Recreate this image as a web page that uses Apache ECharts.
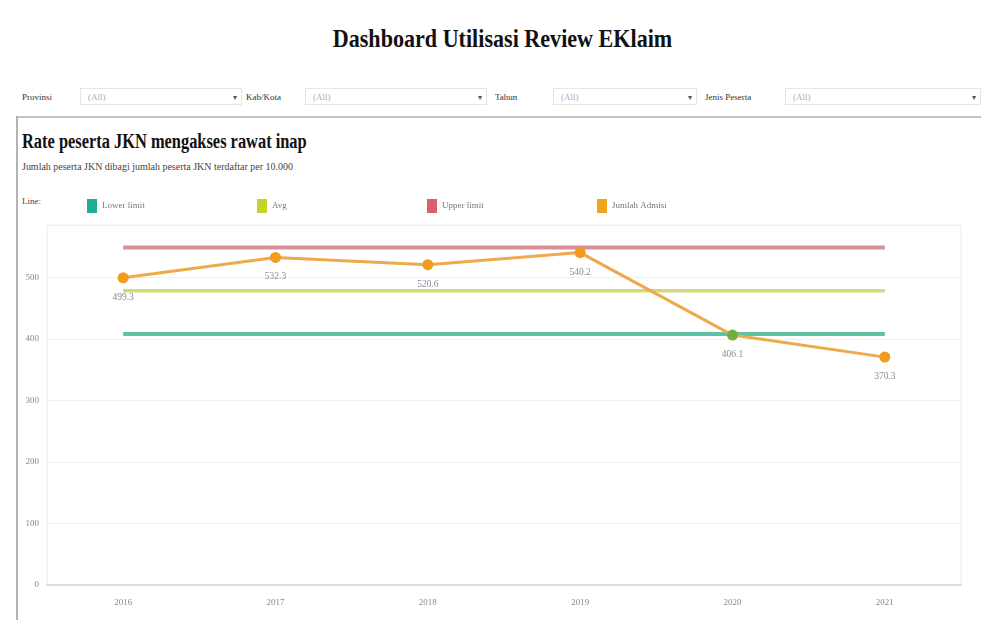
<!DOCTYPE html>
<html>
<head>
<meta charset="utf-8">
<script src="https://cdn.jsdelivr.net/npm/echarts@6/dist/echarts.min.js"></script>
<style>
  body { margin: 0; background: #fff; font-family: "Liberation Serif", serif; }
  #page { position: relative; width: 981px; height: 620px; overflow: hidden; }
  .abs { position: absolute; white-space: nowrap; }
  h1 { position: absolute; left: 12px; top: 24px; width: 981px; margin: 0; text-align: center;
       font-size: 26px; font-weight: bold; color: #111; transform: scaleX(0.85); }
  .flabel { font-size: 9px; color: #333; top: 92px; }
  .select { position: absolute; top: 88px; height: 17px; border: 1px solid #e6e6e6; background: #fff;
            font-size: 9px; color: #aaa; line-height: 17px; padding-left: 7px; box-sizing: border-box; }
  .select span { position: absolute; right: 4px; top: 0; color: #555; font-size: 8px; }
  #chart { position: absolute; left: 0; top: 0; width: 981px; height: 620px; }
</style>
</head>
<body>
<div id="page">
  <h1>Dashboard Utilisasi Review EKlaim</h1>

  <div class="abs flabel" style="left:22px">Provinsi</div>
  <div class="select" style="left:80px;width:162px">(All)<span>▾</span></div>
  <div class="abs flabel" style="left:246px">Kab/Kota</div>
  <div class="select" style="left:305px;width:182px">(All)<span>▾</span></div>
  <div class="abs flabel" style="left:495px">Tahun</div>
  <div class="select" style="left:553px;width:144px">(All)<span>▾</span></div>
  <div class="abs flabel" style="left:705px">Jenis Peserta</div>
  <div class="select" style="left:785px;width:196px">(All)<span>▾</span></div>

  <div class="abs" style="left:17px;top:116px;width:964px;height:2px;background:#c4c4c4"></div>
  <div class="abs" style="left:16px;top:116px;width:2px;height:504px;background:#b4b4b4"></div>

  <div class="abs" style="left:22px;top:130px;font-size:20px;font-weight:bold;color:#111;transform:scaleX(0.82);transform-origin:left top">Rate peserta JKN mengakses rawat inap</div>
  <div class="abs" style="left:22px;top:162px;font-size:9.5px;color:#444;transform:scaleX(1.05);transform-origin:left top">Jumlah peserta JKN dibagi jumlah peserta JKN terdaftar per 10.000</div>
  <div class="abs" style="left:22px;top:196px;font-size:9px;color:#444">Line:</div>

  <div id="chart"></div>
</div>
<script>
// data
const years = ["2016", "2017", "2018", "2019", "2020", "2021"];
const jumlahAdmisi = [499.3, 532.3, 520.6, 540.2, 406.1, 370.3];
const upperLimit = [548.3, 548.3, 548.3, 548.3, 548.3, 548.3];
const avgLine = [478.1, 478.1, 478.1, 478.1, 478.1, 478.1];
const lowerLimit = [407.9, 407.9, 407.9, 407.9, 407.9, 407.9];
const legendNames = ["Lower limit", "Avg", "Upper limit", "Jumlah Admisi"];
const legendColors = ["#1fae8f", "#c6d42a", "#d6606f", "#f0a41c"];
const legendLeft = [82, 252, 422, 592];

const chart = echarts.init(document.getElementById("chart"));

const legends = legendNames.map(function (n, i) {
  return {
    data: [{ name: n, itemStyle: { color: legendColors[i] } }],
    left: legendLeft[i],
    top: 194,
    icon: "rect",
    itemWidth: 10,
    itemHeight: 14,
    itemGap: 4,
    textStyle: { fontSize: 9, color: "#777", fontFamily: "Liberation Serif" }
  };
});

function refLine(name, data, color, width) {
  return {
    name: name,
    type: "line",
    data: data,
    symbol: "none",
    itemStyle: { color: color },
    lineStyle: { color: color, width: width },
    z: 2,
    silent: true
  };
}

chart.setOption({
  animation: false,
  textStyle: { fontFamily: "Liberation Serif" },
  legend: legends,
  grid: {
    left: 47, right: 20, top: 225, bottom: 35,
    show: true, borderColor: "#ececec", borderWidth: 1
  },
  xAxis: {
    type: "category",
    data: years,
    axisLine: { lineStyle: { color: "#dcdcdc", width: 2 } },
    axisTick: { show: false },
    axisLabel: { color: "#888", fontSize: 9, margin: 13 }
  },
  yAxis: {
    type: "value",
    min: 0,
    max: 585,
    interval: 100,
    axisLine: { show: false },
    axisTick: { show: false },
    axisLabel: { color: "#888", fontSize: 9, margin: 8, showMaxLabel: false },
    splitLine: { lineStyle: { color: "#f0f0f0" } }
  },
  series: [
    refLine("Lower limit", lowerLimit, "#5cc2a6", 4),
    refLine("Avg", avgLine, "#d5d77c", 3.5),
    refLine("Upper limit", upperLimit, "#d88f97", 4),
    {
      name: "Jumlah Admisi",
      type: "line",
      z: 5,
      data: jumlahAdmisi.map(function (v, i) {
        return i === 4 ? { value: v, itemStyle: { color: "#74ad3c" } } : v;
      }),
      symbol: "circle",
      symbolSize: 11,
      itemStyle: { color: "#f39b1c" },
      lineStyle: { color: "#eda94a", width: 3 },
      label: {
        show: true,
        position: "bottom",
        distance: 9,
        fontSize: 9.5,
        color: "#8a8a9a",
        formatter: function (p) { return p.value.toFixed(1); }
      }
    }
  ]
});
</script>
</body>
</html>
